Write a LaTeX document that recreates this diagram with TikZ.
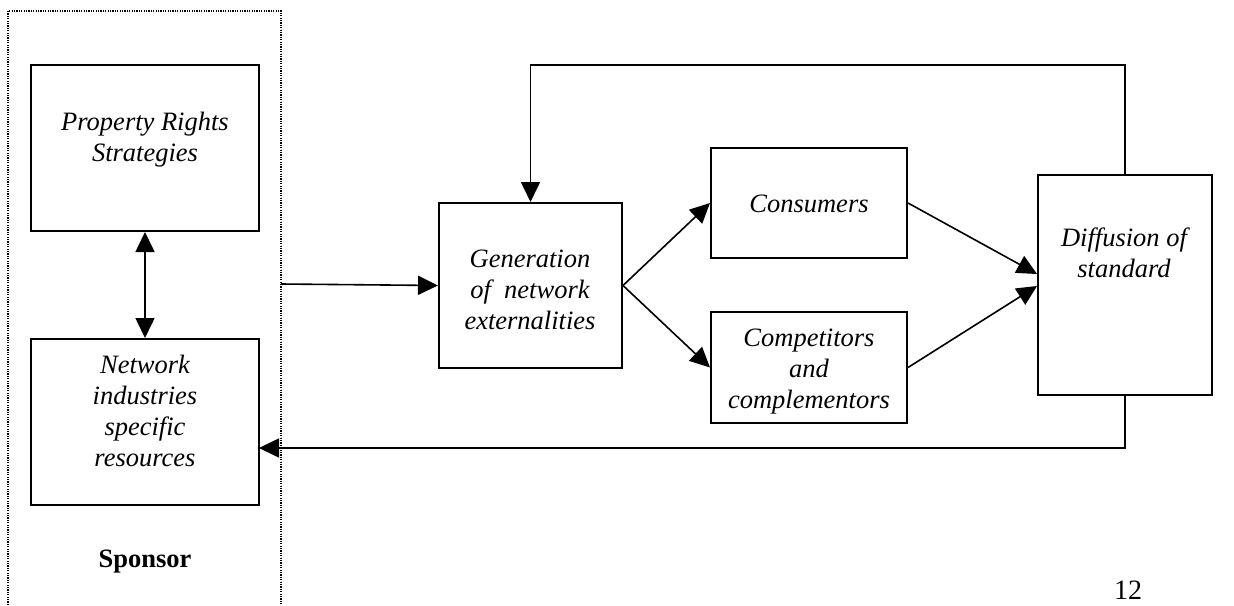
\documentclass[tikz,border=0pt]{standalone}
\usepackage{fontspec}
\setmainfont{Liberation Serif}
\usetikzlibrary{arrows.meta,calc}
\begin{document}
\begin{tikzpicture}[x=1pt,y=-1pt,
  box/.style={draw,line width=2pt,rectangle,inner sep=0pt},
  arr/.style={line width=1.6pt,-{Triangle[length=20pt,width=19pt]}},
  dblarr/.style={line width=1.6pt,{Triangle[length=20pt,width=19pt]}-{Triangle[length=20pt,width=19pt]}},
  txt/.style={font=\fontsize{26.5}{31}\selectfont\itshape,align=center,inner sep=0pt,anchor=north},
  lbl/.style={inner sep=0pt,anchor=base}]
\useasboundingbox (0,0) rectangle (1234,605);
\fill[white] (0,0) rectangle (1234,605);

% sponsor frame
\draw[line width=1.3pt,dash pattern=on 1.2pt off 1.2pt] (8,605) -- (8,11) -- (281,11) -- (281,605);
\coordinate (spout) at (281,284);

% boxes
\node[box,minimum width=228pt,minimum height=166pt] (prs)  at (145,148) {};
\node[box,minimum width=228pt,minimum height=166pt] (nisr) at (145,422) {};
\node[box,minimum width=183pt,minimum height=165pt] (gen)  at (530.5,285.5) {};
\node[box,minimum width=196pt,minimum height=110pt] (cons) at (809,203) {};
\node[box,minimum width=196pt,minimum height=111pt] (comp) at (809,367.5) {};
\node[box,minimum width=174pt,minimum height=220pt] (diff) at (1125,285) {};

% box texts
\node[txt] (tprs)  at (145,112) {Property Rights\\Strategies};
\node[txt] (tnisr) at (145,355) {Network\\industries\\specific\\resources};
\node[txt] (tgen)  at (530,250) {Generation\\of\ \ network\\externalities};
\node[txt] (tcons) at (809,195) {Consumers};
\node[txt] (tcomp) at (809,329) {Competitors\\and\\complementors};
\node[txt] (tdiff) at (1124,228) {Diffusion of\\standard};
\node[lbl,font=\fontsize{26.5}{31}\selectfont\bfseries] (sponsor) at (145,567) {Sponsor};
\node[lbl,font=\fontsize{28}{32}\selectfont] (pnum) at (1128,599) {12};

% connectors
\draw[dblarr] (prs.south) -- (nisr.north);
\draw[arr] (spout) -- (gen.west);
\coordinate (topc) at (530.5,65);
\draw[arr] (diff.north) |- (topc) -- (gen.north);
\coordinate (botc) at (259,448);
\draw[arr] (diff.south) |- (botc);
\draw[arr] (gen.east) -- (cons.west);
\draw[arr] (gen.east) -- (comp.west);
\draw[arr] (cons.east) -- ([yshift=11pt]diff.west);
\draw[arr] (comp.east) -- ([yshift=-1pt]diff.west);
\end{tikzpicture}
\end{document}
